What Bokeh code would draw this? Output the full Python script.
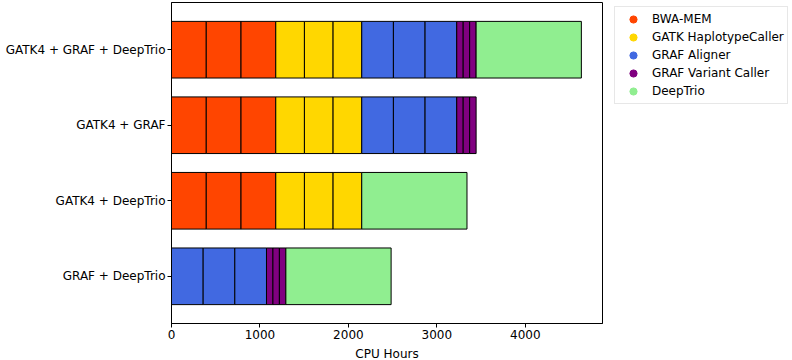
from bokeh.plotting import figure
from bokeh.models import FactorRange, Range1d, Legend, LegendItem, FixedTicker
from bokeh.embed import file_html
from bokeh.resources import INLINE

# Categories (bottom to top)
configs = ["GRAF + DeepTrio", "GATK4 + DeepTrio", "GATK4 + GRAF", "GATK4 + GRAF + DeepTrio"]

# Stage names and colours
stages = ["BWA-MEM", "GATK HaplotypeCaller", "GRAF Aligner", "GRAF Variant Caller", "DeepTrio"]
stage_colors = ["#FF4500", "#FFD700", "#4169E1", "#800080", "#90EE90"]

# CPU hours per run (per sample for trio stages)
bwa_mem = [393, 393, 393]
gatk_hc = [324, 324, 324]
graf_aligner = [358, 358, 358]
graf_vc = [73, 73, 73]
deeptrio = [1190]

stage_values = {
    "BWA-MEM": bwa_mem,
    "GATK HaplotypeCaller": gatk_hc,
    "GRAF Aligner": graf_aligner,
    "GRAF Variant Caller": graf_vc,
    "DeepTrio": deeptrio,
}

pipelines = {
    "GRAF + DeepTrio": ["GRAF Aligner", "GRAF Variant Caller", "DeepTrio"],
    "GATK4 + DeepTrio": ["BWA-MEM", "GATK HaplotypeCaller", "DeepTrio"],
    "GATK4 + GRAF": ["BWA-MEM", "GATK HaplotypeCaller", "GRAF Aligner", "GRAF Variant Caller"],
    "GATK4 + GRAF + DeepTrio": ["BWA-MEM", "GATK HaplotypeCaller", "GRAF Aligner", "GRAF Variant Caller", "DeepTrio"],
}

x_ticks = [0, 1000, 2000, 3000, 4000]

FONT = "DejaVu Sans"
FS = "12px"

p = figure(
    frame_width=431, frame_height=321,
    y_range=FactorRange(factors=configs, range_padding=0.125, range_padding_units="absolute"),
    x_range=Range1d(0, 4873),
    output_backend="svg", toolbar_location=None,
    min_border_left=171, min_border_right=0, min_border_top=2, min_border_bottom=37,
)

# build segments
ys, lefts, rights, fills = [], [], [], []
for cfg in configs:
    pos = 0
    for st in pipelines[cfg]:
        for v in stage_values[st]:
            ys.append(cfg)
            lefts.append(pos)
            rights.append(pos + v)
            fills.append(stage_colors[stages.index(st)])
            pos += v

p.hbar(y=ys, left=lefts, right=rights, height=0.75, fill_color=fills,
       line_color="black", line_width=1)

# legend (marker-only proxies, not drawn in the plot)
items = []
for st, c in zip(stages, stage_colors):
    r = p.scatter(x=[float("nan")], y=[configs[0]], marker="circle", size=9,
                  fill_color=c, line_color=c)
    items.append(LegendItem(label=st, renderers=[r]))

legend = Legend(items=items, location=(12, 219), margin=0,
                label_text_font=FONT, label_text_font_size=FS,
                label_text_color="black",
                glyph_height=18, glyph_width=30, label_height=18,
                label_standoff=4, spacing=0, padding=3,
                border_line_color="#d0d0d0", border_line_width=1,
                background_fill_alpha=1.0)
p.add_layout(legend, "right")

# axes styling
p.xgrid.visible = False
p.ygrid.visible = False
p.outline_line_color = "black"
p.outline_line_width = 1

p.xaxis.ticker = FixedTicker(ticks=x_ticks)
p.xaxis.axis_label = "CPU Hours"
p.xaxis.axis_label_text_font_style = "normal"
p.xaxis.axis_label_standoff = 5
for ax in (p.xaxis, p.yaxis):
    ax.axis_label_text_font = FONT
    ax.axis_label_text_font_size = FS
    ax.axis_label_text_color = "black"
    ax.major_label_text_font = FONT
    ax.major_label_text_font_size = FS
    ax.major_label_text_color = "black"
    ax.axis_line_color = "black"
    ax.major_tick_line_color = "black"
    ax.major_tick_out = 4
    ax.major_tick_in = 0
    ax.minor_tick_line_color = None
    ax.major_label_standoff = 2

out = file_html(p, INLINE)
open("out.html", "w").write(out)
